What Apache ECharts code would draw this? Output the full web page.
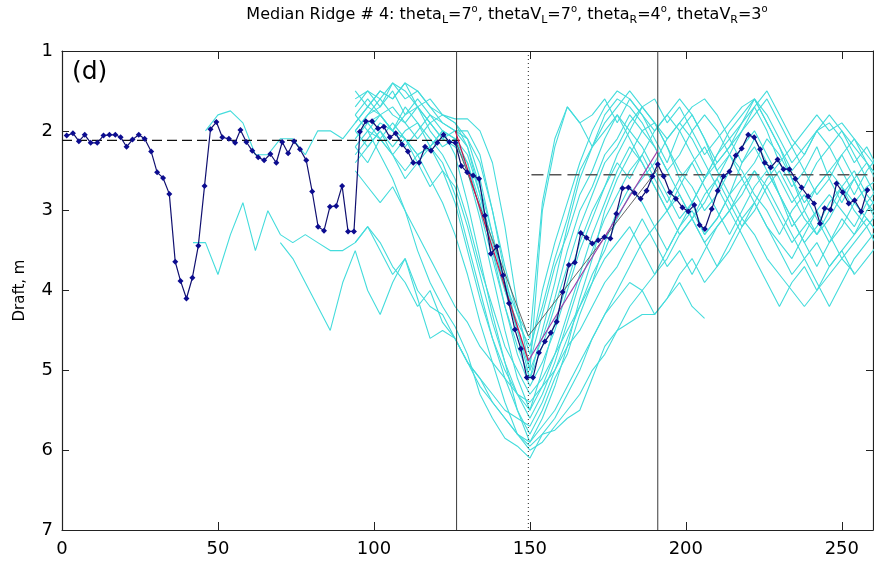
<!DOCTYPE html>
<html><head><meta charset="utf-8">
<script src="https://cdn.jsdelivr.net/npm/echarts/dist/echarts.min.js"></script>
<style>html,body{margin:0;padding:0;background:#fff}#c{width:874px;height:565px}</style>
</head><body><div id="c"></div><script>
// ---------------- data ----------------
const xTicks = [0, 50, 100, 150, 200, 250];
const yTicks = [1, 2, 3, 4, 5, 6, 7];

// median ridge profile (dark blue, diamonds)
const medianProfile = [
[1.5,2.06],[3.5,2.03],[5.4,2.13],[7.3,2.05],[9.2,2.15],[11.3,2.15],[13.3,2.06],[15.2,2.05],[17.1,2.05],[18.8,2.08],
[20.7,2.20],[22.6,2.11],[24.6,2.05],[26.5,2.10],[28.6,2.26],[30.5,2.52],[32.4,2.59],[34.4,2.79],[36.3,3.64],[38.0,3.88],
[39.9,4.10],[41.8,3.84],[43.7,3.44],[45.7,2.69],[47.6,1.98],[49.5,1.89],[51.4,2.08],[53.5,2.10],[55.5,2.15],[57.2,1.99],
[59.1,2.14],[61.0,2.25],[62.9,2.33],[64.8,2.37],[66.8,2.29],[68.7,2.40],[70.6,2.14],[72.5,2.28],[74.4,2.13],[76.3,2.23],
[78.3,2.37],[80.2,2.76],[82.1,3.20],[84.0,3.25],[85.9,2.95],[87.9,2.94],[89.8,2.69],[91.7,3.26],[93.6,3.26],[95.5,2.01],
[97.4,1.88],[99.4,1.88],[101.3,1.97],[103.2,1.95],[105.1,2.08],[107.0,2.03],[109.0,2.17],[110.9,2.26],[112.6,2.40],[114.5,2.40],
[116.4,2.20],[118.3,2.25],[120.3,2.15],[122.3,2.05],[124.2,2.14],[126.1,2.15],[128.0,2.44],[129.9,2.52],[131.8,2.56],[133.7,2.60],
[135.6,3.06],[137.5,3.54],[139.4,3.45],[141.4,3.81],[143.3,4.16],[145.2,4.49],[147.1,4.73],[149.0,5.09],[151.0,5.09],[152.9,4.78],
[154.8,4.64],[156.7,4.53],[158.6,4.39],[160.5,4.02],[162.5,3.68],[164.4,3.65],[166.3,3.28],[168.2,3.34],[170.0,3.41],[171.9,3.37],
[173.9,3.33],[175.8,3.35],[177.7,3.04],[179.7,2.72],[181.6,2.71],[183.6,2.78],[185.5,2.85],[187.4,2.75],[189.3,2.57],[191.0,2.42],
[192.9,2.57],[194.9,2.77],[196.8,2.85],[198.9,2.96],[200.8,3.01],[202.7,2.93],[204.4,3.18],[206.1,3.23],[208.3,2.98],[210.2,2.75],
[212.1,2.57],[214.0,2.51],[216.0,2.31],[217.9,2.22],[220.0,2.05],[221.9,2.08],[223.8,2.23],[225.3,2.40],[227.2,2.46],[229.4,2.36],
[231.3,2.48],[233.2,2.48],[235.1,2.60],[237.1,2.71],[239.2,2.82],[241.1,2.91],[243.0,3.16],[244.5,2.97],[246.4,2.99],[248.3,2.66],
[250.3,2.77],[252.2,2.91],[254.1,2.87],[256.2,3.01],[258.2,2.74]
];

// shared sampling positions of the individual (cyan) ridge profiles
const cyanX = [42,46,50,54,58,62,66,70,74,78,82,86,90,94,98,102,106,110,114,118,122,126,130,134,138,142,146,150,
  154,158,162,166,170,174,178,182,186,190,194,198,202,206,210,214,218,222,226,230,234,238,242,246,250,254,258,262];

const cyan01 = [2.0,1.8,1.7,1.4,1.6,1.5,1.7,1.8, 1.85,1.85,2.0,2.4,3.2,4.2,5.0, 3.0,2.2,1.7,1.9,1.8,1.6,1.9,1.6,1.8,2.1, 2.4,2.0,1.8,2.1,2.5,2.3,2.0,1.7,2.0,2.4, 2.7,2.5,2.2,2.6,2.9,2.6,2.4,2.7];
const cyan02 = [2.0,2.3,2.6,3.0,3.5,3.9,4.2, 4.45,4.8,5.3,5.6,5.85,5.95,6.1, 5.8,5.75,5.6,5.5,5.1,4.7,4.5,4.4,4.3,4.3, 4.1,3.9,4.2,4.35];
const cyan03 = [2.3,2.1,1.9,2.0,1.7,1.9,2.2,2.0, 2.3,2.9,3.6,4.3,4.9,5.5,5.9, 5.6,5.2,4.7,4.1,3.6,3.0,2.6,2.3,2.0,1.9, 2.2,2.6,2.9,3.3,3.1,2.8,2.4,2.1,2.4,2.8, 3.1,3.4,3.7,3.4,3.1,3.3,3.0,2.8];
const cyan04 = [1.6,1.5,1.7,1.5,1.8,1.6,1.8,2.0, 2.1,2.5,3.1,3.8,4.5,5.1,5.5, 5.0,4.4,3.9,3.4,3.0,2.7,2.4,2.6,2.3,2.0, 1.8,2.0,2.3,2.6,2.4,2.2,1.9,1.6,1.9,2.2, 2.5,2.3,2.0,2.2,2.5,2.8,2.5,2.3];
const cyan05 = [1.9,1.7,1.5,1.6,1.4,1.7,1.9,1.8, 1.9,2.1,2.6,3.3,4.0,4.5,4.9, 4.3,3.7,3.3,2.8,2.5,2.1,1.8,2.0,2.2,2.5, 2.8,3.1,2.9,2.6,2.3,2.1,2.4,2.2,2.5,2.8, 3.2,3.0,2.7,2.5,2.3,2.6,2.9,3.2];
const cyan06 = [2.4,2.2,2.0,2.2,2.0,1.9,2.1,2.3, 2.6,3.1,3.7,4.2,4.7,5.0,5.3, 5.1,4.8,4.5,4.2,3.8,3.5,3.1,2.8,2.6,2.4, 2.1,1.9,2.1,2.4,2.7,3.0,2.8,2.5,2.7,3.0, 3.3,3.6,3.9,4.2,3.9,3.6,3.4,3.2];
const cyan07 = [1.8,1.6,1.8,2.0,1.8,1.7,1.9,2.1, 2.2,2.4,2.9,3.5,4.0,4.4,4.7, 4.2,3.6,3.1,2.5,2.2,1.9,1.7,1.5,1.7,1.9, 2.2,2.5,2.7,3.0,2.8,2.5,2.2,2.0,2.3,2.6, 2.9,2.7,2.4,2.2,2.0,2.3,2.6,2.9];
const cyan08 = [3.4,3.2,3.5,3.8,3.6,4.0,4.2,4.3, 4.6,4.9,5.1,5.3,5.5,5.6,5.7, 5.4,5.0,4.6,4.2,3.9,3.6,3.4,3.2,3.5,3.8, 3.6,3.3,3.1,3.4,3.7,3.5,3.2,2.9,3.2,3.5, 3.8,3.6,3.4,3.7,3.5,3.8,3.6,3.4];
const cyan09 = [2.1,1.9,1.8,2.0,2.2,2.0,1.8,1.9, 2.0,2.2,2.7,3.3,3.9,4.5,5.0, 4.6,4.1,3.5,3.0,2.7,2.3,2.1,1.8,2.0,2.2, 2.5,2.8,3.1,2.9,2.6,2.3,2.5,2.8,3.0,3.3, 3.0,2.8,3.1,3.4,3.2,2.9,3.1,3.3];
const cyan10 = [2.2,2.0,2.1,1.9,2.1,2.3,2.2,2.4, 2.8,3.4,4.0,4.6,5.1,5.5,5.8, 5.5,5.1,4.8,4.3,3.9,3.4,3.0,2.7,2.9,3.2, 3.5,3.2,2.9,2.6,2.3,2.0,1.8,1.6,1.9,2.2, 2.6,3.0,3.3,3.0,2.7,2.5,2.8,3.0];
const cyan11 = [2.0,1.8,1.6,1.8,1.9,1.7,2.0,2.2, 2.1,2.3,2.8,3.4,3.9,4.3,4.6, 2.9,2.1,1.7,1.9,2.2,2.0,1.8,2.1,2.4,2.7, 3.0,2.7,2.4,2.2,2.5,2.8,3.1,2.9,2.6,2.4, 2.2,2.5,2.8,2.6,2.3,2.1,2.4,2.6];
const cyan12 = [2.5,2.7,2.9,2.7,3.0,3.3,3.6,3.9, 4.2,4.4,4.7,4.9,5.1,5.3,5.4, 5.2,5.0,4.7,4.5,4.2,3.9,3.7,3.4,3.1,3.4, 3.7,3.5,3.8,3.5,3.2,3.0,3.3,3.6,3.9,4.2, 3.9,3.7,4.0,3.8,3.6,3.78];
const cyan13 = [1.7,1.5,1.6,1.4,1.5,1.7,1.6,1.8, 1.9,2.2,2.8,3.5,4.2,4.8,5.2, 4.9,4.5,4.0,3.5,3.1,2.7,2.3,2.0,1.7,1.6, 1.9,1.7,2.0,2.3,2.1,1.9,1.7,1.6,1.8,2.1, 2.4,2.2,2.0,1.9,2.1,2.4,2.2,2.5];
const cyan14 = [2.0,2.2,2.0,2.3,2.5,2.3,2.6,2.9, 3.3,3.8,4.4,4.9,5.4,5.8,6.0, 5.9,5.7,5.5,5.3,5.0,4.8,4.5,4.2,4.0,3.8, 3.5,3.2,3.0,3.3,3.1,2.8,2.6,2.9,3.2,3.4, 3.6,3.3,3.0,2.8,3.0,3.2,2.9,2.7];
const cyan15 = [1.5,1.7,1.5,1.6,1.4,1.5,1.7,1.9, 2.0,2.0,2.3,3.0,3.7,4.3,4.8, 4.0,3.4,2.9,2.4,2.0,1.7,1.5,1.6,1.8,2.0, 1.8,1.6,1.8,2.1,2.4,2.2,2.0,1.8,1.6,1.9, 2.2,2.0,1.8,2.0,1.9,2.1,2.3,2.5];
const cyan16 = [2.2,2.4,2.1,2.3,2.6,2.4,2.7,2.5, 2.7,3.2,3.8,4.4,4.9,5.3,5.6, 5.3,4.9,4.4,3.9,3.5,3.1,2.8,2.5,2.3,2.6, 2.9,2.6,2.4,2.7,3.0,3.3,3.0,2.7,2.5,2.8, 3.1,3.4,3.2,2.9,2.7,3.0,3.2,3.0];
const cyan17 = [1.8,2.0,1.8,1.7,1.9,2.1,1.9,2.1, 2.0,2.1,2.4,3.0,3.8,4.5,5.1, 4.5,3.9,3.2,2.6,2.2,1.8,1.6,1.7,1.9,2.2, 2.5,2.3,2.0,1.8,2.0,2.3,2.6,2.4,2.1,2.3, 2.6,2.9,2.7,2.5,2.7,2.9,2.7,2.6];
const cyan18 = [1.9,2.1,2.3,2.1,2.4,2.2,2.5, 2.9,3.5,4.1,4.6,5.0,5.3,5.5, 5.2,4.8,4.3,3.8,3.3,2.9,2.5,2.2,2.4,2.7, 3.0,3.3,3.1,2.8,2.6,2.9,3.2,3.0,2.7,2.5, 2.8,3.1,3.3,3.1,2.8,2.6,2.9,3.1];
const cyan19 = [3.4,3.4,3.8,3.3,2.9,3.5,3.0,3.3,3.4,3.3,3.4,3.5,3.5, 3.4,3.2,3.4,3.7,3.9,4.2,4.0,4.4, 4.6,4.9,5.2,5.4,5.6,5.8,5.9, 5.7,5.5,5.2,4.9,4.6,4.3,4.0,3.7,3.4,3.2, 3.0,2.8,3.1,3.4,3.2,3.0,2.7,2.5,2.8,3.1, 3.4,3.2,3.0,3.3,3.6,3.4,3.2,3.5];
const cyan20 = [2.0,1.8,1.75,1.9,2.3,2.3,2.1,2.1,2.3,2.0,2.0,2.1, 1.9,1.7,1.8,2.0,2.1,2.3,2.2,2.0, 2.1,2.4,3.0,3.6,4.2,4.7,5.1, 4.7,4.2,3.7,3.2,2.8,2.4,2.2,1.9,1.7,1.9, 2.1,1.9,1.7,1.6,1.8,2.1,1.9,1.7,1.5,1.8, 2.1,2.3,2.0,1.8,2.0,2.2,2.4,2.6];
const cyan21 = [3.4,3.6,3.9,4.2,4.5,3.9, 3.5,4.0,4.3,3.9,3.6,4.1,4.6,4.5, 4.6,4.9,5.1,5.4,5.6,5.8,5.95, 5.8,5.6,5.3,5.0,4.6,4.3,4.1,3.9,4.0,4.3, 4.1,3.8,3.6,3.9,3.7,3.4,3.1,3.3,3.6,3.8, 4.0,4.2,4.0,3.7,3.5,3.3,3.1,3.3];

// first sample position of each cyan profile
const cyanStarts = [94,98,94,94,94,94,94,94,94,94,94,94,94,94,94,94,94,98,42,46,70];
const cyanValues = [cyan01,cyan02,cyan03,cyan04,cyan05,cyan06,cyan07,cyan08,cyan09,cyan10,cyan11,cyan12,cyan13,cyan14,cyan15,cyan16,cyan17,cyan18,cyan19,cyan20,cyan21];

// fitted triangle model and reference levels
const fitLeft = [[126.1, 2.0], [149.5, 4.88]];
const fitRight = [[149.5, 4.88], [191.0, 2.25]];
const fitGray = [[126.1, 2.12], [149.5, 4.57], [191.0, 2.48]];
const levelLeft = [[0, 2.12], [127.5, 2.12]];
const levelRight = [[150.5, 2.55], [262, 2.55]];
const boundaries = [126.5, 191.0];
const centreX = 149.5;

// ---------------- chart ----------------
const chart = echarts.init(document.getElementById('c'), null, {renderer: 'canvas'});
const FONT = 'DejaVu Sans';

const series = [];
cyanValues.forEach((vals, i) => {
  const k0 = cyanX.indexOf(cyanStarts[i]);
  series.push({
    type: 'line', silent: true, symbol: 'none', z: 1,
    lineStyle: {color: '#44dcdc', width: 1.1},
    data: vals.map((v, k) => [cyanX[k0 + k], v])
  });
});
boundaries.forEach(b => series.push({
  type: 'line', silent: true, symbol: 'none', z: 2,
  lineStyle: {color: '#3a3a3a', width: 1},
  data: [[b, 1], [b, 7]]
}));
series.push({
  type: 'line', silent: true, symbol: 'none', z: 2,
  lineStyle: {color: '#222', width: 1, type: [1, 3]},
  data: [[centreX, 1], [centreX, 7]]
});
series.push({type: 'line', silent: true, symbol: 'none', z: 3,
  lineStyle: {color: '#111', width: 1.1, type: [10, 5]}, data: levelLeft});
series.push({type: 'line', silent: true, symbol: 'none', z: 3,
  lineStyle: {color: '#555', width: 1.5, type: [12, 6]}, data: levelRight});
series.push({type: 'line', silent: true, symbol: 'none', z: 4,
  lineStyle: {color: '#555', width: 0.9}, data: fitGray});
series.push({type: 'line', silent: true, symbol: 'none', z: 4,
  lineStyle: {color: '#d0104a', width: 1.2}, data: fitLeft});
series.push({type: 'line', silent: true, symbol: 'none', z: 4,
  lineStyle: {color: '#a03ca8', width: 1.2}, data: fitRight});
series.push({
  type: 'line', silent: true, z: 5,
  symbol: 'diamond', symbolSize: 6, showSymbol: true,
  itemStyle: {color: '#0c0c90'},
  lineStyle: {color: '#101070', width: 1.2},
  data: medianProfile
});

const axisLine = {onZero: false, lineStyle: {color: '#222', width: 1.2}};
const tick = (len) => ({inside: true, length: len, lineStyle: {color: '#222', width: 1}});
const labelStyle = {fontSize: 18, fontFamily: FONT, color: '#000'};

chart.setOption({
  animation: false,
  backgroundColor: '#fff',
  grid: {left: 62, right: 1, top: 51, bottom: 35, containLabel: false},
  xAxis: [
    {type: 'value', min: 0, max: 260, interval: 50, position: 'bottom',
     axisLine, axisTick: tick(8), splitLine: {show: false},
     axisLabel: Object.assign({margin: 10, showMaxLabel: false,
       formatter: v => (xTicks.indexOf(v) >= 0 ? String(v) : '')}, labelStyle)},
    {type: 'value', min: 0, max: 260, interval: 50, position: 'top',
     axisLine, axisTick: tick(8), splitLine: {show: false}, axisLabel: {show: false}}
  ],
  yAxis: [
    {type: 'value', min: 1, max: 7, interval: 1, inverse: true, position: 'left',
     name: 'Draft, m', nameLocation: 'middle', nameGap: 34,
     nameTextStyle: {fontSize: 15, fontFamily: FONT, color: '#000'},
     axisLine, axisTick: tick(7), splitLine: {show: false},
     axisLabel: Object.assign({margin: 9,
       formatter: v => (yTicks.indexOf(v) >= 0 ? String(v) : '')}, labelStyle)},
    {type: 'value', min: 1, max: 7, interval: 1, inverse: true, position: 'right',
     axisLine, axisTick: tick(7), splitLine: {show: false}, axisLabel: {show: false}}
  ],
  graphic: [
    {type: 'text', x: 507, y: 15, silent: true,
     style: {
       text: 'Median Ridge # 4: theta{sub|L}=7{sup|o}, thetaV{sub|L}=7{sup|o}, theta{sub|R}=4{sup|o}, thetaV{sub|R}=3{sup|o}',
       fontSize: 16, fontFamily: FONT, fill: '#000', lineHeight: 22,
       align: 'center', verticalAlign: 'middle',
       rich: {
         sub: {fontSize: 11, fontFamily: FONT, lineHeight: 10, verticalAlign: 'bottom', fill: '#000'},
         sup: {fontSize: 10, fontFamily: FONT, lineHeight: 8, verticalAlign: 'top', fill: '#000'}
       }
     }},
    {type: 'text', x: 72, y: 60, silent: true,
     style: {text: '(d)', fontSize: 25, fontFamily: FONT, fill: '#000'}}
  ],
  series
});
</script></body></html>
